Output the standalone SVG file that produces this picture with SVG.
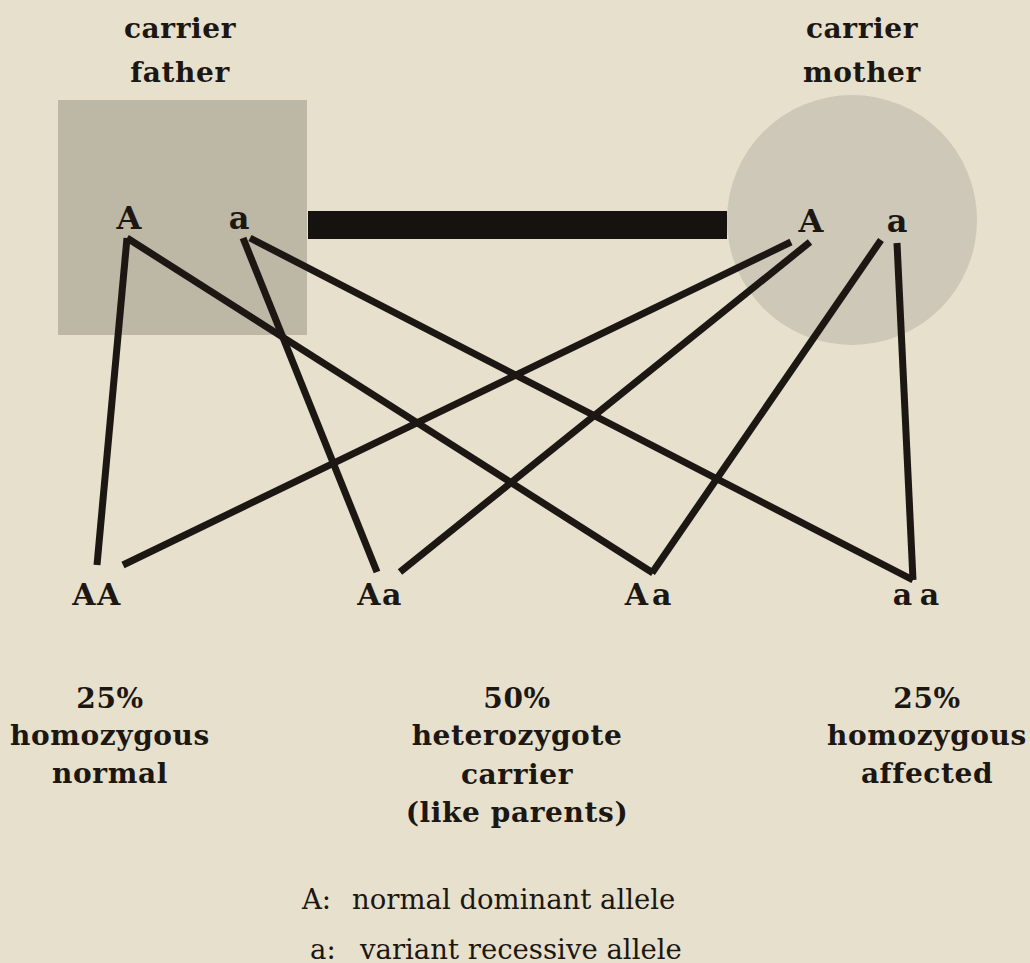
<svg xmlns="http://www.w3.org/2000/svg" width="1030" height="963" viewBox="0 0 1030 963">
<style>
.b{font-family:"DejaVu Serif","Liberation Serif",serif;font-weight:bold;fill:#1c1712;text-anchor:middle}
.lbl{font-size:28px;letter-spacing:0.6px}
.al{font-size:32px}
.gt{font-size:30px;letter-spacing:1.5px}
.r{font-family:"DejaVu Serif","Liberation Serif",serif;font-size:27.5px;fill:#1c1712}
.c{stroke:#1c1712;stroke-width:7;stroke-linecap:butt;fill:none}
</style>
<rect width="1030" height="963" fill="#e6e0cd"/>
<g id="father">
<rect x="58" y="100" width="249" height="235" fill="#bdb7a5"/>
<text class="b lbl" x="180" y="38">carrier</text>
<text class="b lbl" x="180" y="82">father</text>
<text class="b al" x="129" y="229">A</text>
<text class="b al" x="239" y="229">a</text>
</g>
<g id="mother">
<circle cx="852" cy="220" r="125" fill="#cdc8b7"/>
<text class="b lbl" x="862" y="38">carrier</text>
<text class="b lbl" x="862" y="82">mother</text>
<text class="b al" x="811" y="232">A</text>
<text class="b al" x="897" y="232">a</text>
</g>
<g id="connectors">
<line x1="308" y1="225" x2="727" y2="225" stroke="#151210" stroke-width="28"/>
<line class="c" x1="127" y1="238" x2="97" y2="565"/>
<line class="c" x1="127" y1="238" x2="653" y2="573"/>
<line class="c" x1="243" y1="238" x2="377" y2="572"/>
<line class="c" x1="250" y1="238" x2="913" y2="580"/>
<line class="c" x1="791" y1="242" x2="123" y2="565"/>
<line class="c" x1="810" y1="242" x2="400" y2="572"/>
<line class="c" x1="881" y1="240" x2="652" y2="573"/>
<line class="c" x1="897" y1="243" x2="913" y2="580"/>
</g>
<g id="child-AA">
<text class="b gt" x="97" y="605">AA</text>
</g>
<g id="child-Aa-1">
<text class="b gt" x="380" y="605">Aa</text>
</g>
<g id="child-Aa-2">
<text class="b gt" x="650" y="605" style="letter-spacing:4px">Aa</text>
</g>
<g id="child-aa">
<text class="b gt" x="916" y="605" style="letter-spacing:0;word-spacing:-3px">a a</text>
</g>
<g id="stat-normal">
<text class="b lbl" x="110" y="708">25%</text>
<text class="b lbl" x="110" y="745">homozygous</text>
<text class="b lbl" x="110" y="783">normal</text>
</g>
<g id="stat-carrier">
<text class="b lbl" x="517" y="708">50%</text>
<text class="b lbl" x="517" y="745">heterozygote</text>
<text class="b lbl" x="517" y="784">carrier</text>
<text class="b lbl" x="517" y="822">(like parents)</text>
</g>
<g id="stat-affected">
<text class="b lbl" x="927" y="708">25%</text>
<text class="b lbl" x="927" y="745">homozygous</text>
<text class="b lbl" x="927" y="783">affected</text>
</g>
<g id="legend">
<text class="r" x="302" y="909">A:</text>
<text class="r" x="352" y="909">normal dominant allele</text>
<text class="r" x="310" y="959">a:</text>
<text class="r" x="360" y="959">variant recessive allele</text>
</g>
</svg>
